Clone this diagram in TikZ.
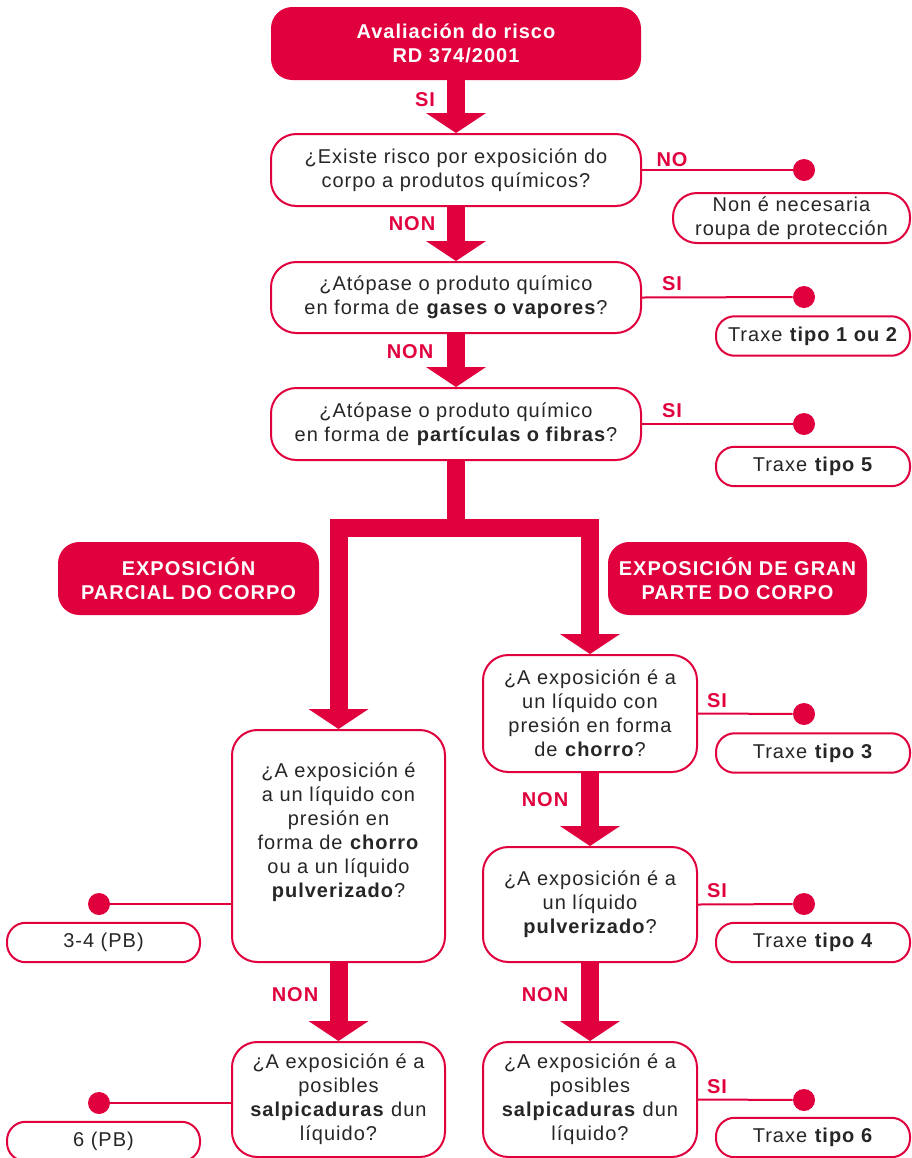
\documentclass[tikz,border=0pt]{standalone}
\usepackage{fontspec}
\setmainfont{Liberation Sans}[LetterSpace=5]
\usetikzlibrary{arrows.meta}
\definecolor{crim}{RGB}{225,0,62}
\newcommand{\txtsize}{\fontsize{15}{18}\selectfont}

\begin{document}
\begin{tikzpicture}[x=0.75pt, y=-0.75pt,
    every node/.style={font=\txtsize, text=black!85, align=center, inner sep=0pt},
    headbox/.style={fill=crim, rounded corners=16pt, text=white, font=\txtsize\bfseries},
    qbox/.style={draw=crim, line width=1.5pt, fill=white, rounded corners=19pt},
    resbox/.style={draw=crim, line width=1.5pt, fill=white, rounded corners=14pt,
        minimum width=145.5pt, minimum height=29.6pt},
    lbl/.style={text=crim, font=\txtsize\bfseries},
    endpt/.style={circle, fill=crim, minimum size=16.5pt},
    link/.style={draw=crim, line width=1.5pt},
    fat/.style={draw=crim, line width=13.5pt,
        -{Triangle[length=15pt, width=45pt, line width=0pt]}}]
    \useasboundingbox (0,0) rectangle (912,1158);
    \clip (0,0) rectangle (912,1158);

    % Cabeceira
    \node[headbox, minimum width=277.5pt, minimum height=54.75pt] (top) at (456,43.5)
        {Avaliación do risco\\RD 374/2001};

    % Preguntas centrais
    \node[qbox, minimum width=277.5pt, minimum height=54pt] (q1) at (456,170)
        {¿Existe risco por exposición do\\corpo a produtos químicos?};
    \node[qbox, minimum width=277.5pt, minimum height=53.25pt] (q2) at (456,297.5)
        {¿Atópase o produto químico\\en forma de \textbf{gases o vapores}?};
    \node[qbox, minimum width=277.5pt, minimum height=54pt] (q3) at (456,424)
        {¿Atópase o produto químico\\en forma de \textbf{partículas o fibras}?};

    % Resultados da dereita
    \node[endpt] (d1) at (804,170) {};
    \node[resbox, minimum width=177.75pt, minimum height=37.5pt, rounded corners=18pt] (r1) at (791.5,218)
        {Non é necesaria\\roupa de protección};
    \node[endpt] (d2) at (804,297) {};
    \node[resbox] (r2) at (813,336) {Traxe \textbf{tipo 1 ou 2}};
    \node[endpt] (d3) at (804,424) {};
    \node[resbox] (r3) at (813,466.5) {Traxe \textbf{tipo 5}};

    \draw[link] (q1.east) -- (d1);
    \draw[link] (q2.east) -- (d2);
    \draw[link] (q3.east) -- (d3);
    \node[lbl] at (672,160) {NO};
    \node[lbl] at (672,284) {SI};
    \node[lbl] at (672,411) {SI};

    % Tipos de exposición
    \node[headbox, minimum width=195.75pt, minimum height=54.75pt] (parcial) at (188.5,578.5)
        {EXPOSICIÓN\\PARCIAL DO CORPO};
    \node[headbox, minimum width=194.25pt, minimum height=54.75pt] (gran) at (737.5,578.5)
        {EXPOSICIÓN DE GRAN\\PARTE DO CORPO};

    % Rama dereita
    \node[qbox, minimum width=160.5pt, minimum height=87.75pt] (R1) at (590,713.5)
        {¿A exposición é a\\un líquido con\\presión en forma\\de \textbf{chorro}?};
    \node[qbox, minimum width=160.5pt, minimum height=86.25pt] (R2) at (590,904.5)
        {¿A exposición é a\\un líquido\\\textbf{pulverizado}?};
    \node[qbox, minimum width=160.5pt, minimum height=86.25pt] (R3) at (590,1099.5)
        {¿A exposición é a\\posibles\\\textbf{salpicaduras} dun\\líquido?};

    \node[endpt] (d4) at (804,714) {};
    \node[resbox] (r4) at (813,753) {Traxe \textbf{tipo 3}};
    \node[endpt] (d5) at (804,904) {};
    \node[resbox] (r5) at (813,942.5) {Traxe \textbf{tipo 4}};
    \node[endpt] (d6) at (804,1100) {};
    \node[resbox] (r6) at (813,1137.5) {Traxe \textbf{tipo 6}};

    \draw[link] (R1.east) -- (d4);
    \draw[link] (R2.east) -- (d5);
    \draw[link] (R3.east) -- (d6);
    \node[lbl] at (717,701) {SI};
    \node[lbl] at (717,891) {SI};
    \node[lbl] at (717,1087) {SI};

    % Rama esquerda
    \node[qbox, minimum width=159.75pt, minimum height=174pt] (L1) at (338.5,846)
        {¿A exposición é\\a un líquido con\\presión en\\forma de \textbf{chorro}\\ou a un líquido\\\textbf{pulverizado}?\\[6pt]};
    \node[qbox, minimum width=159.75pt, minimum height=86.25pt] (L2) at (338.5,1099.5)
        {¿A exposición é a\\posibles\\\textbf{salpicaduras} dun\\líquido?};

    \node[endpt] (d7) at (99,904) {};
    \node[resbox, minimum width=144.75pt] (l1) at (103.5,942.5) {3-4 (PB)};
    \node[endpt] (d8) at (99,1103) {};
    \node[resbox, minimum width=144.75pt] (l2) at (103.5,1141.5) {6 (PB)};

    \draw[link] (d7) -- (d7 -| L1.west);
    \draw[link] (d8) -- (d8 -| L2.west);

    % Frechas grosas
    \draw[fat] (top.south) -- (q1.north);
    \draw[fat] (q1.south) -- (q2.north);
    \draw[fat] (q2.south) -- (q3.north);
    \draw[fat] (q3.south) -- (456,528) -| (L1.north);
    \draw[fat] (456,528) -| (R1.north);
    \draw[fat] (R1.south) -- (R2.north);
    \draw[fat] (R2.south) -- (R3.north);
    \draw[fat] (L1.south) -- (L2.north);

    \node[lbl] at (425,100) {SI};
    \node[lbl] at (412,224) {NON};
    \node[lbl] at (410,352) {NON};
    \node[lbl] at (545,800) {NON};
    \node[lbl] at (545,995) {NON};
    \node[lbl] at (295,995) {NON};
\end{tikzpicture}
\end{document}
